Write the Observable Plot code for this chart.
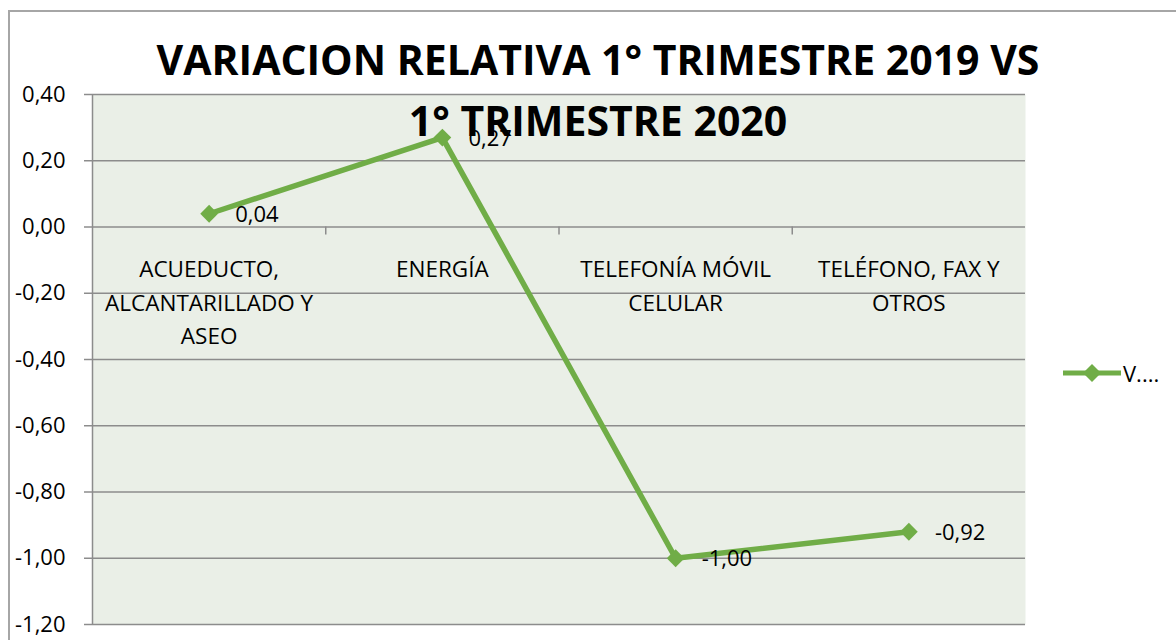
<!DOCTYPE html>
<html>
<head>
<meta charset="utf-8">
<script src="https://cdn.jsdelivr.net/npm/d3@7"></script>
<script src="https://cdn.jsdelivr.net/npm/@observablehq/plot@0.6"></script>
<style>
  html, body { margin: 0; padding: 0; background: #fff; }
  #wrap { position: relative; width: 1176px; height: 640px; overflow: hidden; font-family: "Open Sans", sans-serif; }
  #border { position: absolute; left: 8px; top: 10px; width: 1300px; height: 700px; border-left: 2px solid #a6a6a6; border-top: 2px solid #a6a6a6; box-sizing: border-box; }
  #chart { position: absolute; left: 0; top: 0; }
  #title { position: absolute; left: 0; width: 1196px; top: 29px; text-align: center; font-weight: 700; font-size: 41px; line-height: 61px; color: #000; pointer-events: none; }
  #legend { position: absolute; left: 1063px; top: 358px; display: flex; align-items: center; font-size: 22px; color: #000; }
</style>
</head>
<body>
<div id="wrap">
  <div id="border"></div>
  <div id="chart"></div>
  <div id="title">VARIACION RELATIVA 1° TRIMESTRE 2019 VS<br>1° TRIMESTRE 2020</div>
  <div id="legend"><svg width="58" height="28" viewBox="0 0 58 28"><line x1="0" y1="14" x2="58" y2="14" stroke="#70AD47" stroke-width="5" stroke-linecap="round"/><path d="M29,5 L38,14 L29,23 L20,14 Z" fill="#70AD47"/></svg><span style="margin-left:2px">V....</span></div>
</div>
<script>
const categories = [
  "ACUEDUCTO,\nALCANTARILLADO Y\nASEO",
  "ENERGÍA",
  "TELEFONÍA MÓVIL\nCELULAR",
  "TELÉFONO, FAX Y\nOTROS"
];
const values = [0.04, 0.27, -1.00, -0.92];
const valueLabels = ["0,04", "0,27", "-1,00", "-0,92"];
const yTicks = [0.4, 0.2, 0, -0.2, -0.4, -0.6, -0.8, -1.0, -1.2];
const seriesName = "V....";

const data = categories.map((c, i) => ({i, cat: c, v: values[i], label: valueLabels[i]}));
const boundaries = categories.slice(1).map((c, i) => i + 0.5);
const fmt = v => v.toFixed(2).replace(".", ",").replace("−", "-");

const green = "#70AD47";
const gridColor = "#8c8c8c";

const chart = Plot.plot({
  width: 1176,
  height: 640,
  marginLeft: 92,
  marginRight: 151,
  marginTop: 94,
  marginBottom: 16,
  style: {fontFamily: "'Open Sans', sans-serif", fontSize: "22px", color: "#000", background: "transparent", overflow: "visible"},
  x: {type: "linear", domain: [-0.5, categories.length - 0.5], axis: null},
  y: {domain: [-1.2, 0.4]},
  marks: [
    Plot.frame({fill: "#EAEFE7", stroke: null}),
    Plot.gridY(yTicks, {stroke: gridColor, strokeOpacity: 1, strokeWidth: 1.5}),
    Plot.ruleX([-0.5], {stroke: gridColor, strokeWidth: 1.5}),
    Plot.ruleX(boundaries, {y1: 0, y2: -0.024, stroke: gridColor, strokeWidth: 1.5}),
    Plot.axisY(yTicks, {tickFormat: fmt, tickSize: 8, tickPadding: 19, stroke: gridColor, strokeWidth: 1.5, fontSize: 22, fill: "#000", label: null}),
    Plot.text(data, {x: "i", y: () => 0, text: "cat", lineAnchor: "top", dy: 26, lineHeight: 1.5, fontSize: 22.5, fill: "#000"}),
    Plot.line(data, {x: "i", y: "v", stroke: green, strokeWidth: 5.5}),
    Plot.dot(data, {x: "i", y: "v", symbol: "diamond2", r: 8, fill: green, stroke: null}),
    Plot.text(data, {x: "i", y: "v", text: "label", dx: 26, dy: 1, textAnchor: "start", fontSize: 22, fill: "#000"})
  ]
});
document.getElementById("chart").appendChild(chart);
</script>
</body>
</html>
